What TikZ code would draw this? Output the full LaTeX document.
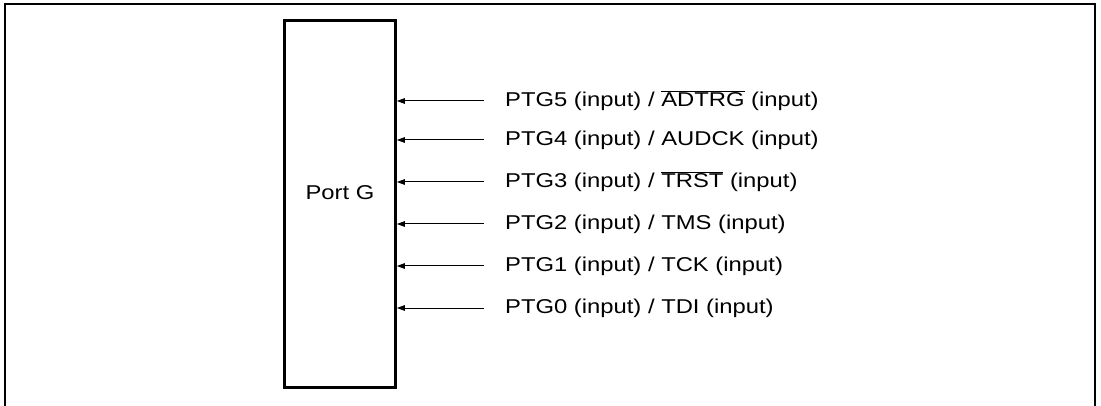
\documentclass[tikz,border=0pt]{standalone}
\usepackage{graphicx}
\usepackage{fontspec}
\setmainfont{Liberation Sans}
\usetikzlibrary{arrows.meta,positioning}

\newcommand{\negsig}[1]{$\overline{\hbox{#1}}$}
\newcommand{\widetxt}[1]{\scalebox{1.19}[1]{#1}}

\tikzset{
  frameline/.style={line width=2.6pt},
  portbox/.style={draw, line width=2.6pt, minimum width=111pt, minimum height=367pt, inner sep=0pt},
  siglabel/.style={anchor=west, inner sep=0pt},
  sigarrow/.style={line width=1pt, -{Triangle[length=8pt,width=5.5pt]}}
}

\begin{document}
\begin{tikzpicture}[x=1pt, y=-1pt, font=\fontsize{20}{24}\selectfont]
\useasboundingbox (0,0) rectangle (1101,406);
\draw[frameline] (5,406) -- (5,4) -- (1095,4) -- (1095,406);

\node[portbox] (portg) at (340,204) {};
\node (portname) at (340,193) {\widetxt{Port G}};

\foreach \i/\y/\t in {5/101/{PTG5 (input) / \negsig{ADTRG} (input)},
                      4/140/{PTG4 (input) / AUDCK (input)},
                      3/182/{PTG3 (input) / \negsig{TRST} (input)},
                      2/224/{PTG2 (input) / TMS (input)},
                      1/266/{PTG1 (input) / TCK (input)},
                      0/308/{PTG0 (input) / TDI (input)}} {
  \coordinate (in\i) at (484,\y);
  \node[siglabel] (sig\i) at (505,\y) {\widetxt{\t}};
  \draw[sigarrow] (in\i) -- (portg.east |- in\i); }
\end{tikzpicture}
\end{document}
